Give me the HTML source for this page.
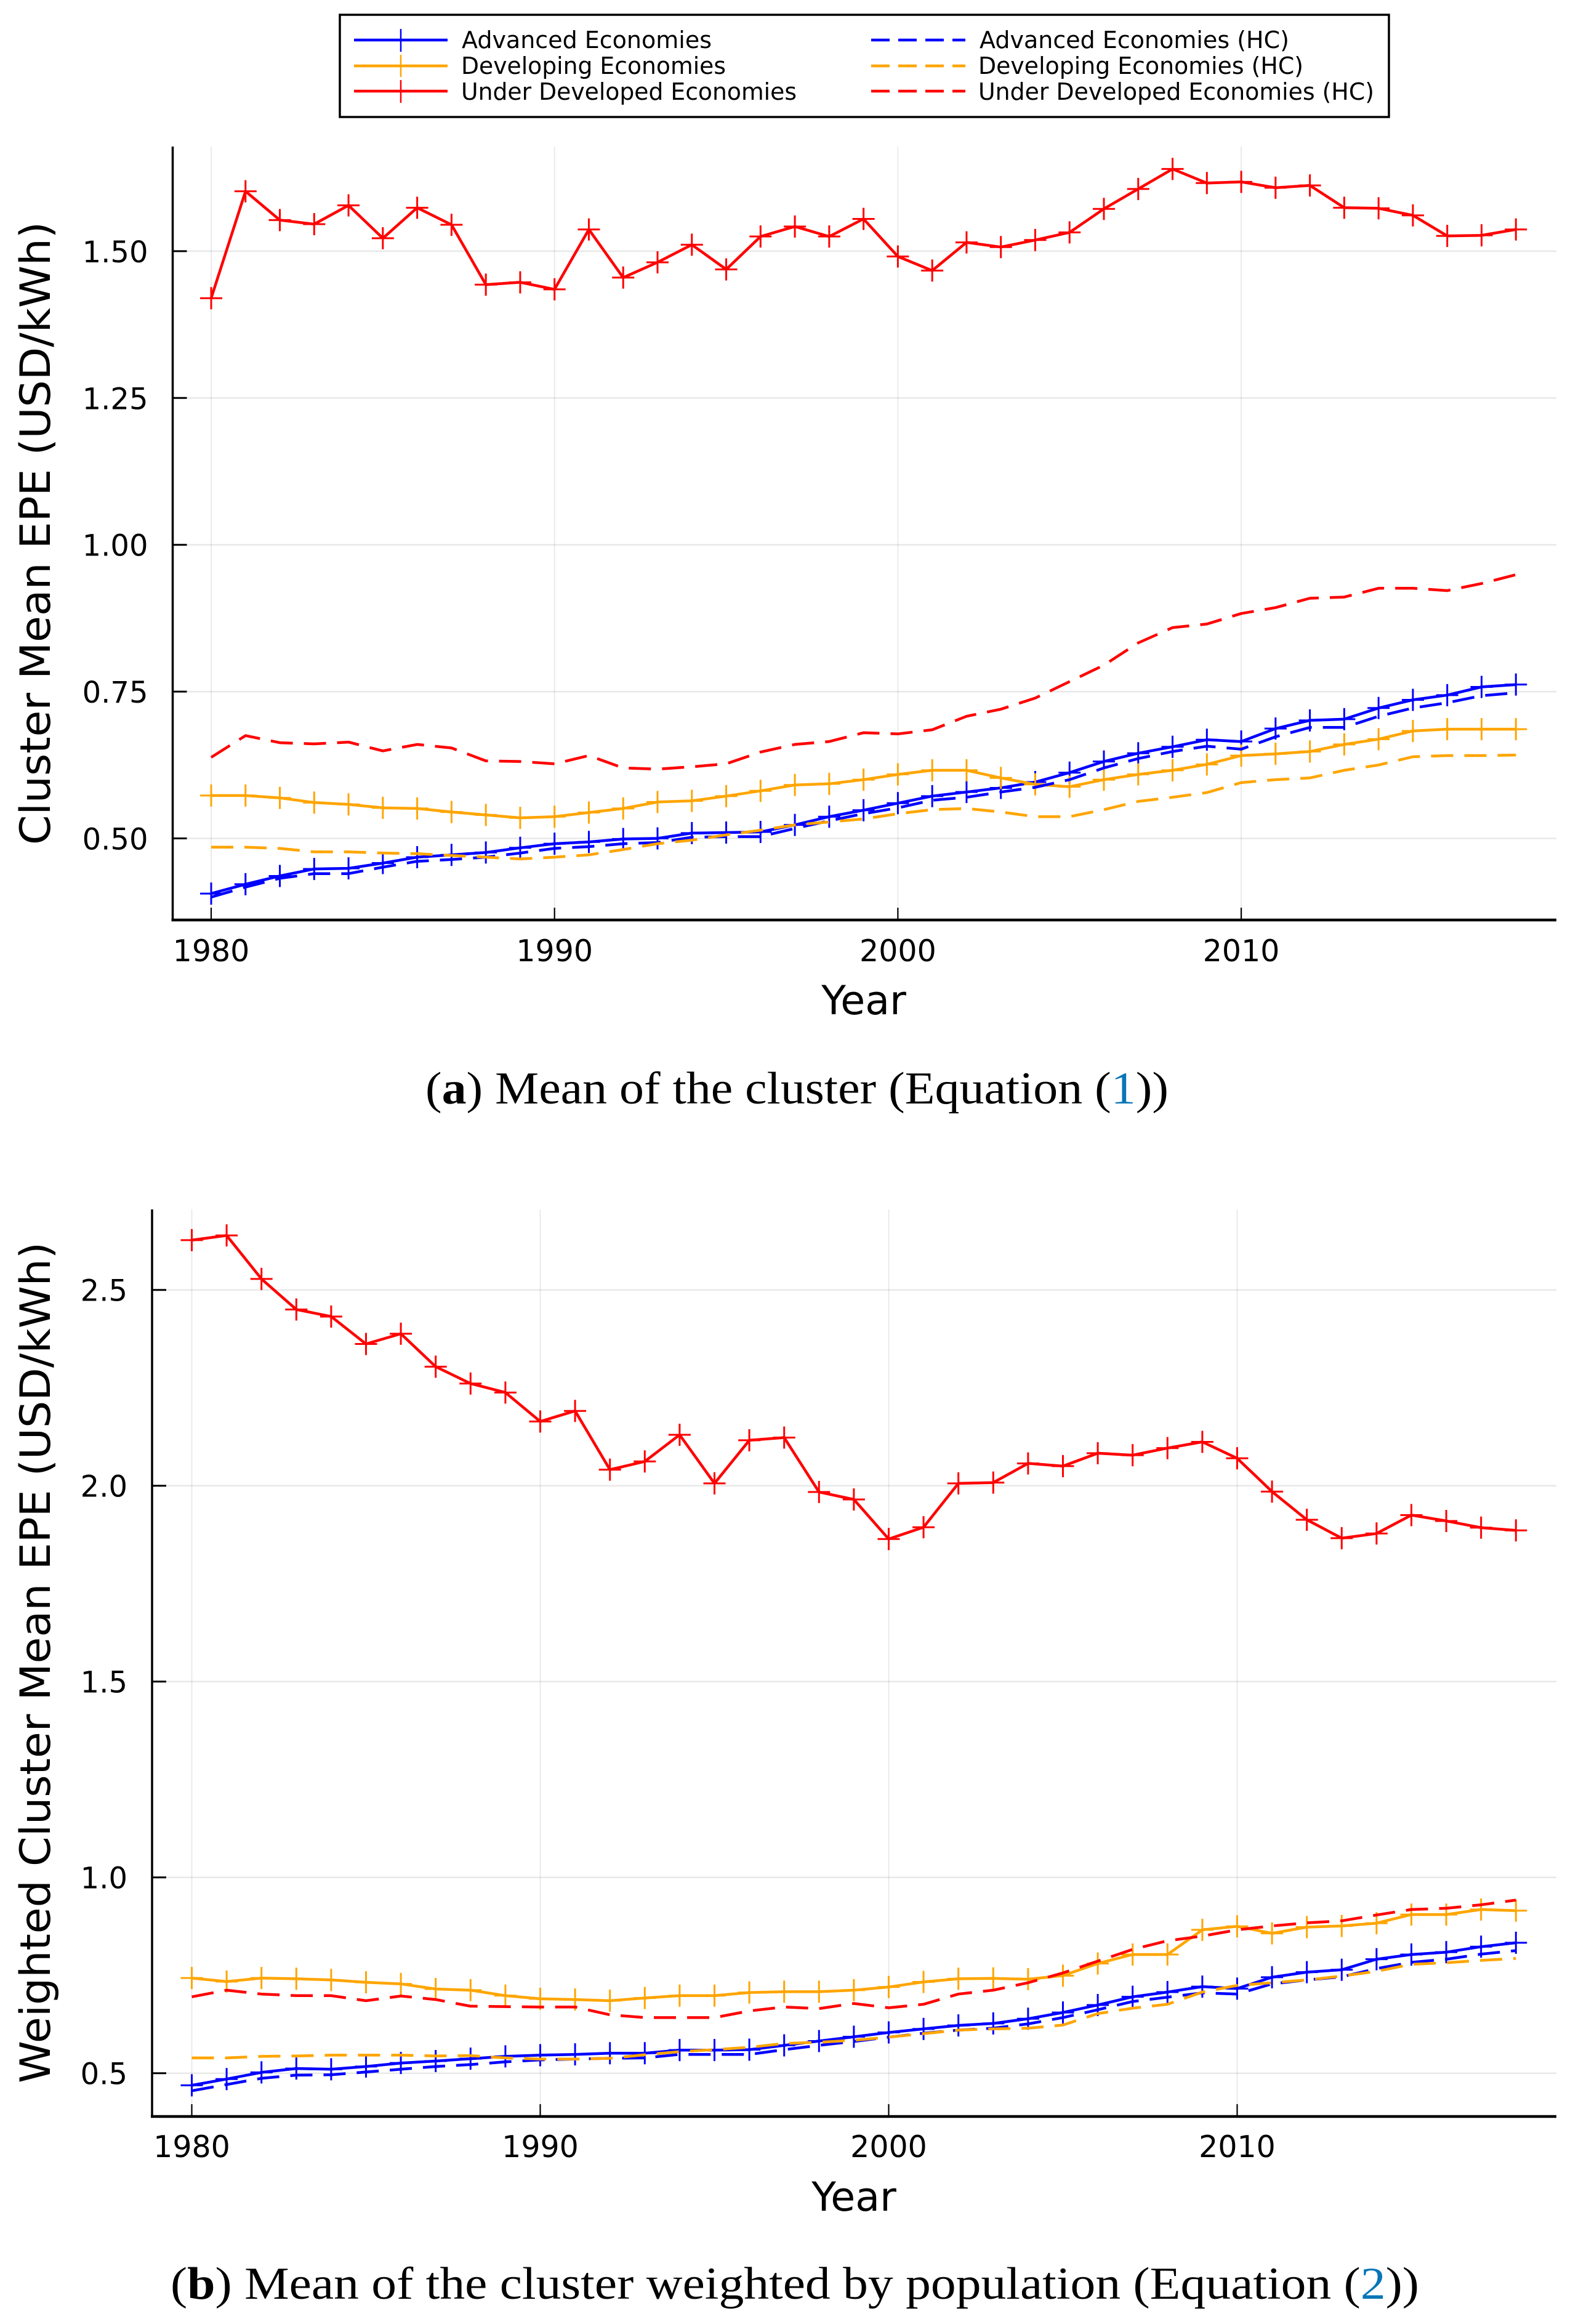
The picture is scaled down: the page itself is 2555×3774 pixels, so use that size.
<!DOCTYPE html>
<html lang="en">
<head>
<meta charset="utf-8">
<title>Cluster Mean EPE charts</title>
<style>
html,body{margin:0;padding:0;background:#fff;}
body{width:2555px;height:3774px;overflow:hidden;}
svg{display:block;}
.ui{font-family:"DejaVu Sans",sans-serif;fill:#000;}
.cap{font-family:"Liberation Serif",serif;fill:#000;}
</style>
</head>
<body>
<svg id="figure" xmlns="http://www.w3.org/2000/svg" width="2555" height="3774" viewBox="0 0 2555 3774">
  <rect x="0" y="0" width="2555" height="3774" fill="#fff"/>
  <g id="panel-a"></g>
  <g id="panel-b"></g>

  <g>
    <rect x="552" y="24" width="1704" height="166" fill="#fff" stroke="#000" stroke-width="3.5"/>
    <g>
      <path d="M575 65H727" stroke="#00f" stroke-width="4.5" fill="none"/>
      <path d="M651 47V84M633 65H669" stroke="#00f" stroke-width="2.5" fill="none"/>
      <text class="ui" x="750" y="78" font-size="38" textLength="406" lengthAdjust="spacingAndGlyphs">Advanced Economies</text>
    </g>
    <g>
      <path d="M575 107H727" stroke="#ffa500" stroke-width="4.5" fill="none"/>
      <path d="M651 89V125M633 107H669" stroke="#ffa500" stroke-width="2.5" fill="none"/>
      <text class="ui" x="749" y="120" font-size="38" textLength="430" lengthAdjust="spacingAndGlyphs">Developing Economies</text>
    </g>
    <g>
      <path d="M575 148H727" stroke="#f00" stroke-width="4.5" fill="none"/>
      <path d="M651 130V167M633 148H669" stroke="#f00" stroke-width="2.5" fill="none"/>
      <text class="ui" x="749" y="162" font-size="38" textLength="545" lengthAdjust="spacingAndGlyphs">Under Developed Economies</text>
    </g>
    <g>
      <path d="M1415 65H1568" stroke="#00f" stroke-width="4.5" stroke-dasharray="30 14" fill="none"/>
      <text class="ui" x="1591" y="78" font-size="38" textLength="503" lengthAdjust="spacingAndGlyphs">Advanced Economies (HC)</text>
    </g>
    <g>
      <path d="M1415 107H1568" stroke="#ffa500" stroke-width="4.5" stroke-dasharray="30 14" fill="none"/>
      <text class="ui" x="1589" y="120" font-size="38" textLength="528" lengthAdjust="spacingAndGlyphs">Developing Economies (HC)</text>
    </g>
    <g>
      <path d="M1415 148H1568" stroke="#f00" stroke-width="4.5" stroke-dasharray="30 14" fill="none"/>
      <text class="ui" x="1589" y="162" font-size="38" textLength="643" lengthAdjust="spacingAndGlyphs">Under Developed Economies (HC)</text>
    </g>
  </g>

  <text class="ui" x="1403" y="1647" font-size="65" text-anchor="middle">Year</text>
  <text class="ui" transform="translate(81 1372) rotate(-90)" x="0" y="0" font-size="68" textLength="1012" lengthAdjust="spacingAndGlyphs">Cluster Mean EPE (USD/kWh)</text>
  <text class="cap" x="691" y="1792" font-size="74" textLength="1207" lengthAdjust="spacingAndGlyphs">(<tspan font-weight="bold">a</tspan>) Mean of the cluster (Equation (<tspan fill="#0875b7">1</tspan>))</text>

  <text class="ui" x="1387" y="3590" font-size="65" text-anchor="middle">Year</text>
  <text class="ui" transform="translate(81 3383) rotate(-90)" x="0" y="0" font-size="68" textLength="1366" lengthAdjust="spacingAndGlyphs">Weighted Cluster Mean EPE (USD/kWh)</text>
  <text class="cap" x="277" y="3733" font-size="74" textLength="2028" lengthAdjust="spacingAndGlyphs">(<tspan font-weight="bold">b</tspan>) Mean of the cluster weighted by population (Equation (<tspan fill="#0875b7">2</tspan>))</text>
</svg>

<script>
const years = [1980,1981,1982,1983,1984,1985,1986,1987,1988,1989,1990,1991,1992,1993,1994,1995,1996,1997,1998,1999,2000,2001,2002,2003,2004,2005,2006,2007,2008,2009,2010,2011,2012,2013,2014,2015,2016,2017,2018];
const xTickValues = [1980,1990,2000,2010];
const xTickLabels = ["1980","1990","2000","2010"];

const yTickValuesA = [0.5,0.75,1.0,1.25,1.5];
const yTickLabelsA = ["0.50","0.75","1.00","1.25","1.50"];
const yTickValuesB = [0.5,1.0,1.5,2.0,2.5];
const yTickLabelsB = ["0.5","1.0","1.5","2.0","2.5"];

const advancedA = [.406,.422,.436,.448,.449,.458,.468,.472,.476,.484,.491,.494,.499,.500,.509,.510,.511,.523,.537,.548,.560,.572,.579,.586,.596,.612,.631,.645,.656,.668,.665,.687,.701,.703,.722,.736,.744,.758,.762];
const developingA = [.573,.573,.569,.561,.558,.552,.551,.545,.540,.535,.537,.544,.551,.562,.564,.572,.581,.591,.593,.600,.609,.616,.616,.603,.592,.588,.600,.609,.616,.626,.641,.644,.648,.660,.669,.683,.686,.686,.686];
const underDevelopedA = [1.420,1.602,1.553,1.546,1.578,1.522,1.574,1.545,1.443,1.447,1.435,1.537,1.455,1.481,1.511,1.469,1.525,1.542,1.525,1.555,1.491,1.467,1.515,1.507,1.519,1.532,1.572,1.606,1.640,1.616,1.618,1.608,1.612,1.574,1.573,1.561,1.526,1.527,1.537];
const advancedHcA = [.400,.417,.432,.440,.440,.451,.461,.464,.468,.475,.483,.486,.491,.493,.502,.503,.503,.517,.530,.542,.552,.565,.570,.579,.587,.600,.620,.636,.648,.657,.652,.673,.689,.689,.708,.722,.731,.743,.748];
const developingHcA = [.485,.485,.483,.477,.477,.475,.474,.471,.468,.465,.468,.472,.481,.491,.497,.506,.514,.523,.528,.533,.542,.549,.551,.545,.537,.537,.549,.563,.570,.578,.595,.600,.603,.616,.625,.639,.641,.641,.642];
const underDevelopedHcA = [.638,.675,.663,.661,.664,.649,.660,.654,.632,.631,.627,.641,.620,.618,.622,.627,.647,.660,.665,.680,.678,.685,.708,.720,.739,.767,.795,.833,.859,.865,.883,.893,.909,.911,.926,.926,.922,.934,.949];

const advancedB = [.469,.485,.502,.512,.510,.517,.526,.531,.537,.543,.546,.548,.551,.551,.559,.559,.560,.571,.582,.593,.604,.613,.622,.627,.639,.655,.674,.695,.707,.721,.716,.745,.758,.764,.791,.803,.809,.823,.833];
const developingB = [.743,.734,.743,.741,.738,.732,.728,.715,.712,.698,.690,.688,.685,.692,.698,.698,.706,.708,.708,.712,.720,.733,.741,.742,.740,.749,.780,.803,.803,.866,.875,.857,.873,.876,.883,.905,.905,.918,.915];
const underDevelopedB = [2.627,2.639,2.528,2.450,2.432,2.362,2.388,2.304,2.261,2.238,2.164,2.191,2.041,2.062,2.130,2.006,2.116,2.123,1.984,1.965,1.864,1.894,2.006,2.008,2.057,2.050,2.083,2.078,2.096,2.112,2.070,1.985,1.913,1.866,1.878,1.925,1.910,1.893,1.886];
const advancedHcB = [.455,.471,.487,.495,.496,.503,.510,.517,.522,.529,.534,.536,.538,.539,.548,.548,.548,.560,.571,.581,.592,.602,.610,.615,.626,.642,.662,.683,.694,.705,.702,.728,.738,.746,.767,.783,.791,.804,.813];
const developingHcB = [.539,.539,.543,.544,.546,.546,.546,.544,.545,.539,.536,.536,.538,.547,.555,.560,.566,.576,.579,.584,.592,.601,.610,.613,.615,.623,.652,.666,.676,.707,.724,.731,.738,.748,.760,.778,.782,.788,.793];
const underDevelopedHcB = [.695,.712,.702,.698,.698,.685,.697,.688,.671,.670,.669,.669,.649,.642,.642,.642,.659,.669,.665,.678,.667,.676,.702,.712,.731,.756,.786,.816,.838,.850,.866,.876,.884,.889,.904,.918,.921,.930,.942];

const BLUE = "#0000ff", ORANGE = "#ffa500", RED = "#ff0000";
const SVGNS = "http://www.w3.org/2000/svg";

function mk(tag, attrs, parent) {
  const el = document.createElementNS(SVGNS, tag);
  for (const k in attrs) el.setAttribute(k, attrs[k]);
  parent.appendChild(el);
  return el;
}

function drawPanel(cfg) {
  const root = document.getElementById(cfg.id);
  const xScale = function (yr) { return cfg.x0 + (yr - 1980) * cfg.xPerYear; };
  const yScale = function (v) { return cfg.y05 - (v - 0.5) * cfg.yPerUnit; };

  cfg.yTicks.forEach(function (v, i) {
    const g = mk("line", {x1: cfg.left, x2: cfg.right, y1: yScale(v), y2: yScale(v), stroke: "#000", "stroke-opacity": 0.09, "stroke-width": 2.5}, root);
    
    
  });
  cfg.xTickVals.forEach(function (v) {
    const g = mk("line", {x1: xScale(v), x2: xScale(v), y1: cfg.top, y2: cfg.bottom, stroke: "#000", "stroke-opacity": 0.09, "stroke-width": 1.8}, root);
    
    
  });

  const yAxis = mk("line", {x1: cfg.left, x2: cfg.left, y1: cfg.top, y2: cfg.bottom + 2, stroke: "#000", "stroke-width": 3.5}, root);
  
  
  const xAxis = mk("line", {x1: cfg.left - 2, x2: cfg.right, y1: cfg.bottom, y2: cfg.bottom, stroke: "#000", "stroke-width": 4.5}, root);
  
  

  cfg.yTicks.forEach(function (v, i) {
    const t = mk("line", {x1: cfg.left, x2: cfg.left + 23, y1: yScale(v), y2: yScale(v), stroke: "#000", "stroke-width": 3}, root);
    
    
    const l = mk("text", {"class": "ui", x: cfg.left - 40, y: yScale(v) + 18, "font-size": 48, "text-anchor": "end"}, root);
    l.textContent = cfg.yLabels[i];
    
    
  });
  cfg.xTickVals.forEach(function (v, i) {
    const t = mk("line", {x1: xScale(v), x2: xScale(v), y1: cfg.bottom - 20, y2: cfg.bottom, stroke: "#000", "stroke-width": 2.2}, root);
    
    
    const l = mk("text", {"class": "ui", x: xScale(v), y: cfg.xLabelY, "font-size": 49, "text-anchor": "middle"}, root);
    l.textContent = cfg.xLabels[i];
    
    
  });

  cfg.series.forEach(function (s) {
    const g = mk("g", {}, root);
    
    
    const d = s.values.map(function (v, i) {
      return (i ? "L" : "M") + xScale(years[i]).toFixed(1) + " " + yScale(v).toFixed(1);
    }).join("");
    const attrs = {d: d, fill: "none", stroke: s.color, "stroke-width": 4.5, "stroke-linejoin": "round"};
    if (s.dashed) attrs["stroke-dasharray"] = "36 18";
    const line = mk("path", attrs, g);
    
    
    if (!s.dashed) {
      s.values.forEach(function (v, i) {
        const px = xScale(years[i]), py = yScale(v);
        const m = mk("path", {d: "M" + px + " " + (py - 18) + "V" + (py + 18) + "M" + (px - 18) + " " + py + "H" + (px + 18), fill: "none", stroke: s.color, "stroke-width": 3}, g);
        
        
      });
    }
  });
}

drawPanel({
  id: "panel-a", left: 280.5, right: 2528, top: 238, bottom: 1494,
  x0: 343, xPerYear: 55.77, y05: 1361.5, yPerUnit: 953.6,
  xLabelY: 1561, yTicks: yTickValuesA, yLabels: yTickLabelsA,
  xTickVals: xTickValues, xLabels: xTickLabels,
  series: [
    {name: "advanced-economies", values: advancedA, color: BLUE, dashed: false},
    {name: "developing-economies", values: developingA, color: ORANGE, dashed: false},
    {name: "under-developed-economies", values: underDevelopedA, color: RED, dashed: false},
    {name: "advanced-economies-hc", values: advancedHcA, color: BLUE, dashed: true},
    {name: "developing-economies-hc", values: developingHcA, color: ORANGE, dashed: true},
    {name: "under-developed-economies-hc", values: underDevelopedHcA, color: RED, dashed: true}
  ]
});

drawPanel({
  id: "panel-b", left: 247, right: 2528, top: 1964, bottom: 3437,
  x0: 311.5, xPerYear: 56.6, y05: 3366.7, yPerUnit: 636,
  xLabelY: 3503, yTicks: yTickValuesB, yLabels: yTickLabelsB,
  xTickVals: xTickValues, xLabels: xTickLabels,
  series: [
    {name: "advanced-economies", values: advancedB, color: BLUE, dashed: false},
    {name: "developing-economies", values: developingB, color: ORANGE, dashed: false},
    {name: "under-developed-economies", values: underDevelopedB, color: RED, dashed: false},
    {name: "advanced-economies-hc", values: advancedHcB, color: BLUE, dashed: true},
    {name: "developing-economies-hc", values: developingHcB, color: ORANGE, dashed: true},
    {name: "under-developed-economies-hc", values: underDevelopedHcB, color: RED, dashed: true}
  ]
});
</script>
</body>
</html>
